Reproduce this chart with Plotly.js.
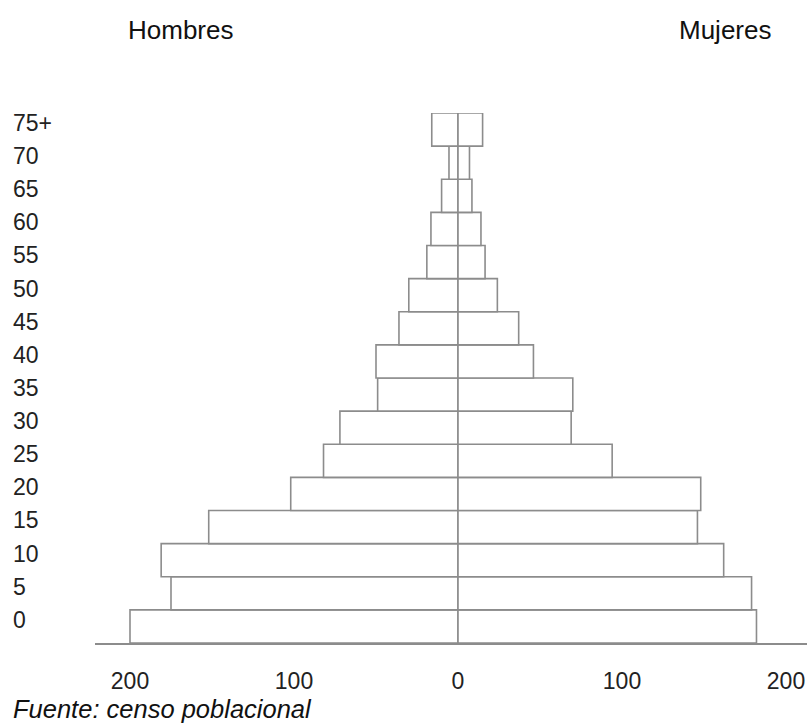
<!DOCTYPE html>
<html>
<head>
<meta charset="utf-8">
<script src="https://cdn.plot.ly/plotly-3.0.1.min.js"></script>
<style>html,body{margin:0;padding:0;background:#fff;}#chart{width:807px;height:723px;}</style>
</head>
<body>
<div id="chart"></div>
<script>
// Age groups (lower bound of each 5-year group)
const ageLabels = ['0','5','10','15','20','25','30','35','40','45','50','55','60','65','70','75+'];
// Population counts
const hombres = [200, 175, 181, 152, 102, 82, 72, 49, 50, 36, 30, 19, 16.5, 10, 5.5, 16];
const mujeres = [182, 179, 162, 146, 148, 94, 69, 70, 46, 37, 24, 16.5, 14, 8.5, 7, 15];
const xTickVals = [-200, -100, 0, 100, 200];
const xTickText = ['200', '100', '0', '100', '200'];

const idx = ageLabels.map((_, i) => i);
const barStyle = {color: '#ffffff', line: {color: '#8c8c8c', width: 1.6}};

const traces = [
  {type: 'bar', orientation: 'h', name: 'Hombres', y: idx, x: hombres.map(v => -v),
   marker: barStyle, hoverinfo: 'skip'},
  {type: 'bar', orientation: 'h', name: 'Mujeres', y: idx, x: mujeres,
   marker: barStyle, hoverinfo: 'skip'}
];

const W = 807, H = 723, L = 95, R = 0, T = 113, B = 80;
const pw = W - L - R, ph = H - T - B;
const px = x => (x - L) / pw;          // pixel -> paper x
const py = y => (H - B - y) / ph;      // pixel -> paper y

const font = 'Liberation Sans, Arial, sans-serif';
const annotations = ageLabels.map((lab, i) => ({
  text: lab, xref: 'paper', yref: 'y', x: px(11), y: i + 0.2,
  xanchor: 'left', yanchor: 'middle', showarrow: false,
  font: {family: font, size: 23, color: '#222'}
}));
annotations.push(
  {text: 'Hombres', xref: 'paper', yref: 'paper', x: px(180), y: py(30), xanchor: 'center', yanchor: 'middle',
   showarrow: false, font: {family: font, size: 26, color: '#111'}},
  {text: 'Mujeres', xref: 'paper', yref: 'paper', x: px(725), y: py(30), xanchor: 'center', yanchor: 'middle',
   showarrow: false, font: {family: font, size: 26, color: '#111'}},
  {text: '<i>Fuente: censo poblacional</i>', xref: 'paper', yref: 'paper', x: px(11), y: py(709), xanchor: 'left', yanchor: 'middle',
   showarrow: false, font: {family: font, size: 25.5, color: '#111'}}
);

const layout = {
  width: W, height: H,
  margin: {l: L, r: R, t: T, b: B, pad: 0},
  paper_bgcolor: '#fff', plot_bgcolor: '#fff',
  showlegend: false,
  barmode: 'overlay', bargap: 0,
  xaxis: {
    range: [(L - 458) / 1.64, (W - 458) / 1.64],
    tickvals: xTickVals, ticktext: xTickText,
    showgrid: false, zeroline: true, zerolinecolor: '#8c8c8c', zerolinewidth: 1.6,
    showline: true, linecolor: '#8c8c8c', linewidth: 1.6,
    ticks: '', ticklabelstandoff: 17,
    tickfont: {family: font, size: 23, color: '#222'}, fixedrange: true
  },
  yaxis: {
    range: [-0.5, 15.5], showgrid: false, zeroline: false, showline: false,
    showticklabels: false, ticks: '', fixedrange: true
  },
  annotations: annotations
};

Plotly.newPlot('chart', traces, layout, {displayModeBar: false, staticPlot: true});
</script>
</body>
</html>
